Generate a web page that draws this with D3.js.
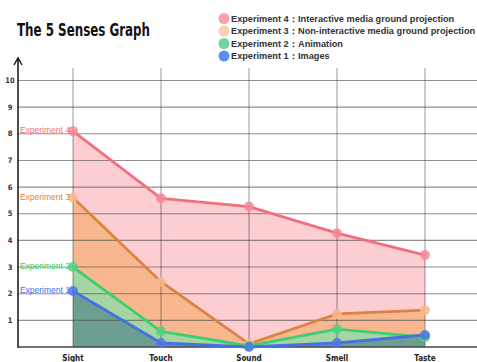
<!DOCTYPE html>
<html lang="en">
<head>
    <meta charset="UTF-8">
    <title>The 5 Senses Graph</title>
    <script src="https://d3js.org/d3.v7.min.js"></script>
    <style>
        body { margin: 0; background: #fff; }
        svg { font-family: "Liberation Sans", Arial, sans-serif; }
        .narrow { font-family: "DejaVu Sans", sans-serif; font-stretch: condensed; font-weight: bold; }
    </style>
</head>
<body>
    <svg></svg>
    <script>
        const senses = ['Sight', 'Touch', 'Sound', 'Smell', 'Taste'];
        const yTicks = [1, 2, 3, 4, 5, 6, 7, 8, 9, 10];

        const exp4 = [8.1, 5.58, 5.27, 4.27, 3.45];
        const exp3 = [5.6, 2.45, 0.12, 1.24, 1.38];
        const exp2 = [3.0, 0.59, 0.04, 0.67, 0.37];
        const exp1 = [2.1, 0.15, 0.0, 0.15, 0.45];

        const legendNames = ['Experiment 4', 'Experiment 3', 'Experiment 2', 'Experiment 1'];
        const legendDescs = ['Interactive media ground projection', 'Non-interactive media ground projection', 'Animation', 'Images'];

        const series = [
            { name: 'Experiment 4', values: exp4, line: '#f0707e', fill: '#fccdd1', dot: '#f48a95', legend: '#f8a3ab' },
            { name: 'Experiment 3', values: exp3, line: '#db8442', fill: '#f8b78f', dot: '#f6b98c', legend: '#f9cfae' },
            { name: 'Experiment 2', values: exp2, line: '#3ccf72', fill: '#a6d5a2', dot: '#52d182', legend: '#6fd59b' },
            { name: 'Experiment 1', values: exp1, line: '#4372e3', fill: '#6c9f92', dot: '#4a78e6', legend: '#5b8ef0' }
        ];

        const W = 477, H = 362;
        const svg = d3.select('svg').attr('width', W).attr('height', H);

        const x = d3.scalePoint().domain(senses).range([73, 425]);
        const y = d3.scaleLinear().domain([0, 10]).range([347, 80.5]);
        const x0 = 18;

        // areas
        const area = d3.area()
            .x((d, i) => x(senses[i]))
            .y0(y(0))
            .y1(d => y(d));
        series.forEach(s => {
            svg.append('path')
                .datum(s.values)
                .attr('d', area)
                .attr('fill', s.fill);
        });

        // horizontal grid
        svg.append('g')
            .selectAll('line')
            .data(yTicks)
            .join('line')
            .attr('x1', x0)
            .attr('x2', W)
            .attr('y1', d => y(d))
            .attr('y2', d => y(d))
            .attr('stroke', '#555')
            .attr('stroke-opacity', 0.65)
            .attr('stroke-width', 1.1);

        // vertical grid
        svg.append('g')
            .selectAll('line')
            .data(senses)
            .join('line')
            .attr('x1', d => x(d))
            .attr('x2', d => x(d))
            .attr('y1', 68)
            .attr('y2', y(0))
            .attr('stroke', '#222')
            .attr('stroke-opacity', 0.6)
            .attr('stroke-width', 0.8);

        // baseline
        svg.append('line')
            .attr('x1', x0).attr('x2', W)
            .attr('y1', y(0)).attr('y2', y(0))
            .attr('stroke', '#444').attr('stroke-width', 1.5);

        // y axis with arrow
        svg.append('line')
            .attr('x1', x0).attr('x2', x0)
            .attr('y1', y(0) + 0.7).attr('y2', 59)
            .attr('stroke', '#111').attr('stroke-width', 1.5);
        svg.append('path')
            .attr('d', `M${x0 - 4},${65} L${x0},${58} L${x0 + 4},${65}`)
            .attr('fill', 'none')
            .attr('stroke', '#111')
            .attr('stroke-width', 1.4);

        svg.append('g')
            .selectAll('text')
            .data(yTicks)
            .join('text')
            .attr('class', 'narrow')
            .attr('x', 10)
            .attr('y', d => y(d))
            .attr('dy', '0.35em')
            .attr('text-anchor', 'middle')
            .style('font-size', '7.5px')
            .attr('fill', '#333')
            .text(d => d);

        // x labels
        svg.append('g')
            .selectAll('text')
            .data(senses)
            .join('text')
            .attr('class', 'narrow')
            .attr('x', d => x(d))
            .attr('y', 361)
            .attr('text-anchor', 'middle')
            .style('font-size', '8px')
            .attr('fill', '#222')
            .text(d => d);

        // lines
        const line = d3.line()
            .x((d, i) => x(senses[i]))
            .y(d => y(d));
        series.forEach(s => {
            svg.append('path')
                .datum(s.values)
                .attr('d', line)
                .attr('fill', 'none')
                .attr('stroke', s.line)
                .attr('stroke-width', 2.8)
                .attr('stroke-linejoin', 'round');
        });

        // dots
        series.forEach(s => {
            svg.append('g')
                .selectAll('circle')
                .data(s.values)
                .join('circle')
                .attr('cx', (d, i) => x(senses[i]))
                .attr('cy', d => y(d))
                .attr('r', 5)
                .attr('fill', s.dot)
                .attr('fill-opacity', 0.85);
        });

        // series labels on the left
        series.forEach(s => {
            svg.append('text')
                .attr('x', 70)
                .attr('y', y(s.values[0]) - 1)
                .attr('dy', '0.35em')
                .attr('text-anchor', 'end')
                .style('font-size', '8.5px')
                .attr('fill', s.line)
                .text(s.name);
        });

        // title
        svg.append('text')
            .attr('class', 'narrow')
            .attr('x', 17)
            .attr('y', 36)
            .attr('textLength', 133)
            .attr('lengthAdjust', 'spacingAndGlyphs')
            .style('font-size', '18px')
            .attr('fill', '#111')
            .text('The 5 Senses Graph');

        // legend
        const legend = svg.append('g');
        legendNames.forEach((n, i) => {
            const ly = 18.5 + i * 12.5;
            legend.append('circle')
                .attr('cx', 224).attr('cy', ly).attr('r', 5.5)
                .attr('fill', series[i].legend);
            legend.append('text')
                .attr('x', 231).attr('y', ly).attr('dy', '0.35em')
                .style('font-size', '9.2px').style('font-weight', 'bold')
                .attr('fill', '#333')
                .text(n + '：');
            legend.append('text')
                .attr('x', 298).attr('y', ly).attr('dy', '0.35em')
                .style('font-size', '9.2px').style('font-weight', 'bold')
                .attr('fill', '#333')
                .text(legendDescs[i]);
        });
    </script>
</body>
</html>
